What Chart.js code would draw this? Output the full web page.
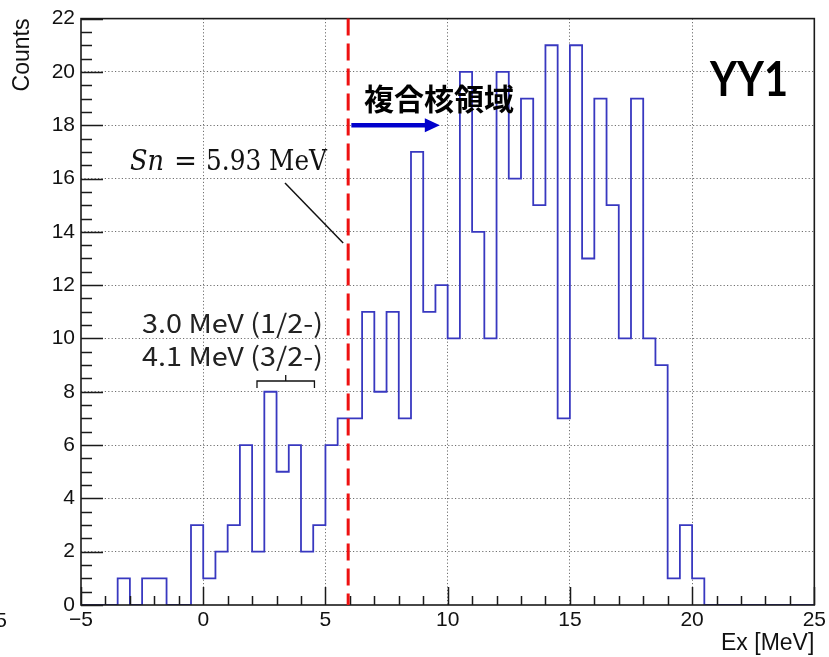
<!DOCTYPE html>
<html>
<head>
<meta charset="utf-8">
<script src="https://cdn.jsdelivr.net/npm/chart.js@4.4.1/dist/chart.umd.min.js"></script>
<style>
  html, body { margin: 0; padding: 0; background: #ffffff; }
  #wrap { width: 829px; height: 657px; position: relative; }
</style>
</head>
<body>
<div id="wrap"><canvas id="c" width="829" height="657"></canvas></div>
<script>
// Excitation-energy histogram: 0.5 MeV bins starting at Ex = -5 MeV
const binStart = -5;
const binWidth = 0.5;
const counts = [
  0, 0, 0, 1, 0, 1, 1, 0, 0, 3,
  1, 2, 3, 6, 2, 8, 5, 6, 2, 3,
  6, 7, 7, 11, 8, 11, 7, 17, 11, 12,
  10, 20, 14, 10, 20, 16, 19, 15, 21, 7,
  21, 13, 19, 15, 10, 19, 10, 9, 1, 3,
  1, 0, 0, 0, 0, 0, 0, 0, 0, 0
];

// Axis ranges and tick spacing
const xRange = [-5, 25];
const yRange = [0, 22];
const xMajorStep = 5, xMinorStep = 1;
const yMajorStep = 2, yMinorStep = 0.5;

// Neutron separation energy and annotation texts
const snEnergy = 5.93;
const snSymbol = 'Sn';
const snValue = '5.93 MeV';
const regionLabel = '複合核領域';
const detectorLabel = 'YY1';
const levelLabels = ['3.0 MeV (1/2-)', '4.1 MeV (3/2-)'];
const levelBrace = [2.2, 4.55];
const regionArrow = [6.06, 9.68];
const regionArrowY = 18;

// Step outline: one point per bin edge, holding the bin content to the right
const edges = counts.map((_, i) => binStart + i * binWidth);
const histPoints = counts.map((c, i) => ({ x: edges[i], y: c }));
histPoints.push({ x: binStart + counts.length * binWidth, y: counts[counts.length - 1] });

const sansFont = "'Liberation Sans', Arial, sans-serif";

// Draws a text squeezed or stretched horizontally to a given width
function fitText(ctx, text, x, y, width) {
  const w = ctx.measureText(text).width;
  ctx.save();
  ctx.translate(x, y);
  ctx.scale(width / w, 1);
  ctx.fillText(text, 0, 0);
  ctx.restore();
}

const rootStyle = {
  id: 'rootStyle',
  afterDatasetsDraw(chart) {
    const { ctx, chartArea: a, scales: { x, y } } = chart;
    ctx.save();

    // Frame
    ctx.strokeStyle = '#1a1a1a';
    ctx.lineWidth = 1.6;
    ctx.strokeRect(a.left, a.top, a.right - a.left, a.bottom - a.top);

    // Inward tick marks on the bottom axis
    ctx.lineWidth = 1.5;
    ctx.beginPath();
    for (let v = xRange[0]; v <= xRange[1] + 1e-9; v += xMinorStep) {
      const px = Math.round(x.getPixelForValue(v)) + 0.5;
      const major = Math.abs(v / xMajorStep - Math.round(v / xMajorStep)) < 1e-6;
      ctx.moveTo(px, a.bottom);
      ctx.lineTo(px, a.bottom - (major ? 18 : 9));
    }
    // Inward tick marks on the left axis
    for (let v = yRange[0]; v <= yRange[1] + 1e-9; v += yMinorStep) {
      const py = Math.round(y.getPixelForValue(v)) + 0.5;
      const major = Math.abs(v / yMajorStep - Math.round(v / yMajorStep)) < 1e-6;
      ctx.moveTo(a.left, py);
      ctx.lineTo(a.left + (major ? 22 : 11), py);
    }
    ctx.stroke();

    // Separation-energy marker
    const sx = x.getPixelForValue(snEnergy);
    ctx.strokeStyle = '#ee1111';
    ctx.lineWidth = 3;
    ctx.setLineDash([17, 8]);
    ctx.beginPath();
    ctx.moveTo(sx, y.getPixelForValue(yRange[1]));
    ctx.lineTo(sx, y.getPixelForValue(yRange[0]));
    ctx.stroke();
    ctx.setLineDash([]);

    // Leader line from the Sn label to the marker
    ctx.strokeStyle = '#111';
    ctx.lineWidth = 1.5;
    ctx.beginPath();
    ctx.moveTo(285, 183);
    ctx.lineTo(sx - 5, 243);
    ctx.stroke();

    // Arrow pointing into the compound-nucleus region
    const ax0 = x.getPixelForValue(regionArrow[0]);
    const ax1 = x.getPixelForValue(regionArrow[1]);
    const ay = y.getPixelForValue(regionArrowY);
    ctx.strokeStyle = '#0000cc';
    ctx.fillStyle = '#0000cc';
    ctx.lineWidth = 4.5;
    ctx.beginPath();
    ctx.moveTo(ax0, ay);
    ctx.lineTo(ax1 - 12, ay);
    ctx.stroke();
    ctx.beginPath();
    ctx.moveTo(ax1, ay);
    ctx.lineTo(ax1 - 15, ay - 7);
    ctx.lineTo(ax1 - 15, ay + 7);
    ctx.closePath();
    ctx.fill();

    // Brace grouping the two low-lying levels
    const bx0 = x.getPixelForValue(levelBrace[0]);
    const bx1 = x.getPixelForValue(levelBrace[1]);
    const bm = (bx0 + bx1) / 2;
    ctx.strokeStyle = '#111';
    ctx.lineWidth = 1.3;
    ctx.beginPath();
    ctx.moveTo(bx0, 388);
    ctx.lineTo(bx0, 381);
    ctx.lineTo(bx1, 381);
    ctx.lineTo(bx1, 388);
    ctx.moveTo(bm, 381);
    ctx.lineTo(bm, 375);
    ctx.stroke();

    // Sn = 5.93 MeV
    ctx.textBaseline = 'alphabetic';
    ctx.textAlign = 'left';
    ctx.fillStyle = '#111';
    ctx.font = "italic 28px 'DejaVu Serif', serif";
    fitText(ctx, snSymbol, 130, 170, 34);
    ctx.font = "27px 'DejaVu Serif', serif";
    fitText(ctx, '=', 174, 170, 23);
    fitText(ctx, snValue, 206, 170, 121);

    ctx.fillStyle = '#222';
    ctx.font = "26px 'Noto Sans CJK JP', sans-serif";
    fitText(ctx, levelLabels[0], 142, 333, 181);
    fitText(ctx, levelLabels[1], 142, 366, 181);

    ctx.fillStyle = '#000';
    ctx.font = "bold 30px 'Noto Sans CJK JP', sans-serif";
    ctx.fillText(regionLabel, 364, 110);

    ctx.font = "bold 48px Lato, 'Open Sans', sans-serif";
    fitText(ctx, detectorLabel, 710, 96, 78);

    // Clipped tick label at the left border
    ctx.font = '21px ' + sansFont;
    ctx.textAlign = 'right';
    ctx.textBaseline = 'middle';
    ctx.fillStyle = '#111';
    ctx.fillText('5', 7, 621);

    ctx.restore();
  }
};

const edgeTransparent = (lo, hi) => (c) =>
  (c.tick && (c.tick.value === lo || c.tick.value === hi)) ? 'rgba(0,0,0,0)' : '#707070';

new Chart(document.getElementById('c'), {
  type: 'line',
  data: {
    datasets: [{
      data: histPoints,
      stepped: true,
      borderColor: '#3838c0',
      borderWidth: 1.8,
      pointRadius: 0,
      fill: false,
      tension: 0
    }]
  },
  options: {
    responsive: false,
    animation: false,
    devicePixelRatio: 1,
    layout: { padding: { top: 16, right: 13, left: 0, bottom: 0 } },
    plugins: { legend: { display: false }, tooltip: { enabled: false } },
    scales: {
      x: {
        type: 'linear',
        min: xRange[0],
        max: xRange[1],
        ticks: {
          stepSize: xMajorStep,
          color: '#111',
          padding: 3,
          maxRotation: 0,
          font: { family: sansFont, size: 21 },
          callback: (v) => String(v).replace('-', '\u2212')
        },
        grid: { color: edgeTransparent(xRange[0], xRange[1]), lineWidth: 1, drawTicks: false },
        border: { display: false, dash: [1.2, 2.2] },
        title: {
          display: true, text: 'Ex [MeV]', align: 'end', color: '#111',
          font: { family: sansFont, size: 23 }, padding: { top: 0, bottom: 0 }
        },
        afterFit: (s) => { s.height = 52; }
      },
      y: {
        type: 'linear',
        min: yRange[0],
        max: yRange[1],
        ticks: {
          stepSize: yMajorStep,
          color: '#111',
          padding: 6,
          font: { family: sansFont, size: 21 }
        },
        grid: { color: edgeTransparent(yRange[0], yRange[1]), lineWidth: 1, drawTicks: false },
        border: { display: false, dash: [1.2, 2.2] },
        title: {
          display: true, text: 'Counts', align: 'end', color: '#111',
          font: { family: sansFont, size: 23 }, padding: { top: 9, bottom: 0 }
        },
        afterFit: (s) => { s.width = 81; }
      }
    }
  },
  plugins: [rootStyle]
});
</script>
</body>
</html>
